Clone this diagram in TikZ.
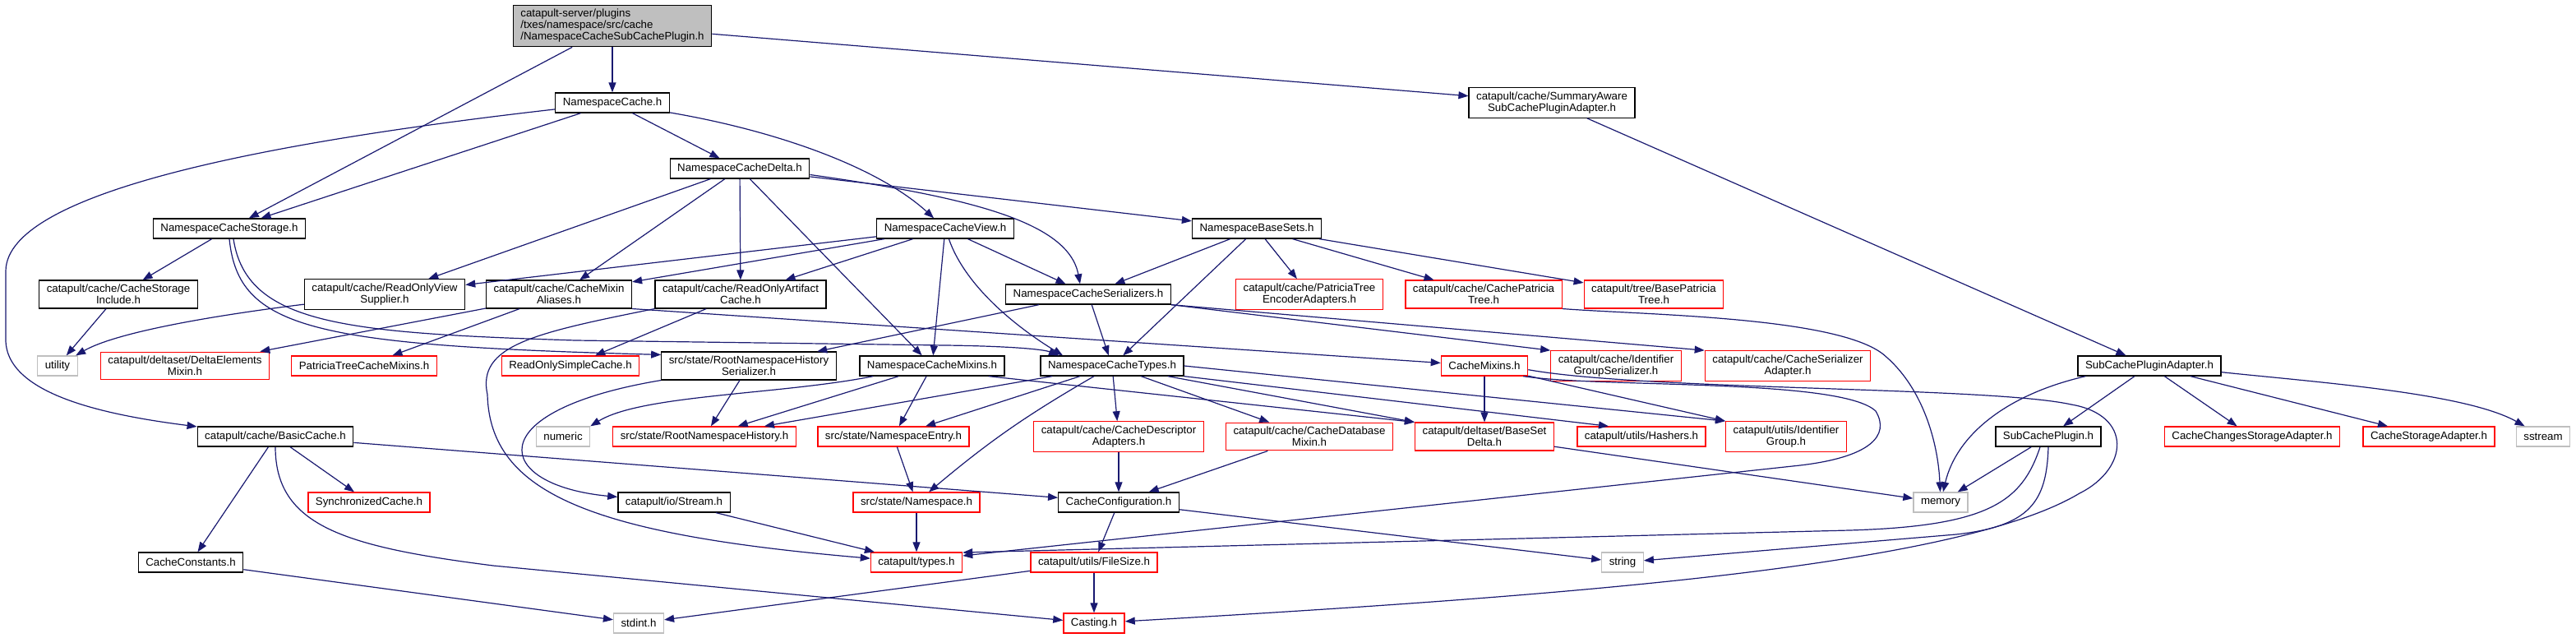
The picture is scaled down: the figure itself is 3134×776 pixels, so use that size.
\documentclass[tikz,border=0pt]{standalone}
\usepackage{fontspec}
\setmainfont{Liberation Sans}
\usepackage{xcolor}
\usepackage{tikz}
\usetikzlibrary{arrows.meta}
\definecolor{edgeblue}{RGB}{25,25,112}
\definecolor{sysgray}{RGB}{191,191,191}

\begin{document}
\begin{tikzpicture}[
    x=1pt, y=-1pt,
    hbox/.style={rectangle, draw, line width=1.3pt, font=\fontsize{13.3}{14}\selectfont, inner xsep=9pt, inner ysep=5pt, minimum height=24pt, align=center},
    doc/.style={hbox, draw=black},
    undoc/.style={hbox, draw=red},
    syshdr/.style={hbox, draw=sysgray},
    incl/.style={draw=edgeblue, line width=1.2pt, -{Triangle[length=12pt,width=9pt]}},
]
    \useasboundingbox (0,0) rectangle (3134,776);

    \node[doc, fill=sysgray, align=left] (root) at (745,31.5) {catapult-server/plugins\\/txes/namespace/src/cache\\/NamespaceCacheSubCachePlugin.h};
    \node[doc] (nsCache) at (745,125) {NamespaceCache.h};
    \node[doc] (summary) at (1888,125) {catapult/cache/SummaryAware\\SubCachePluginAdapter.h};
    \node[doc] (nsDelta) at (900,205) {NamespaceCacheDelta.h};
    \node[doc] (nsStorage) at (279,278) {NamespaceCacheStorage.h};
    \node[doc] (nsView) at (1150,278) {NamespaceCacheView.h};
    \node[doc] (baseSets) at (1529,278) {NamespaceBaseSets.h};
    \node[doc] (storageInc) at (144,358) {catapult/cache/CacheStorage\\Include.h};
    \node[doc] (viewSupplier) at (468,358) {catapult/cache/ReadOnlyView\\Supplier.h};
    \node[doc] (mixinAliases) at (680,358) {catapult/cache/CacheMixin\\Aliases.h};
    \node[doc] (artifactCache) at (901,358) {catapult/cache/ReadOnlyArtifact\\Cache.h};
    \node[doc] (serializers) at (1324,358) {NamespaceCacheSerializers.h};
    \node[undoc] (treeEncoder) at (1593,358) {catapult/cache/PatriciaTree\\EncoderAdapters.h};
    \node[undoc] (cachePatricia) at (1805,358) {catapult/cache/CachePatricia\\Tree.h};
    \node[undoc] (basePatricia) at (2012,358) {catapult/tree/BasePatricia\\Tree.h};
    \node[syshdr] (utility) at (70,445) {utility};
    \node[undoc] (deltaElements) at (225,445) {catapult/deltaset/DeltaElements\\Mixin.h};
    \node[undoc] (patriciaMixins) at (443,445) {PatriciaTreeCacheMixins.h};
    \node[undoc] (simpleCache) at (694,445) {ReadOnlySimpleCache.h};
    \node[doc] (historySer) at (911,445) {src/state/RootNamespaceHistory\\Serializer.h};
    \node[doc] (nsMixins) at (1134,445) {NamespaceCacheMixins.h};
    \node[doc] (nsTypes) at (1353,445) {NamespaceCacheTypes.h};
    \node[undoc] (cacheMixins) at (1806,445) {CacheMixins.h};
    \node[undoc] (groupSer) at (1966,445) {catapult/cache/Identifier\\GroupSerializer.h};
    \node[undoc] (serAdapter) at (2175,445) {catapult/cache/CacheSerializer\\Adapter.h};
    \node[doc] (pluginAdapter) at (2615,445) {SubCachePluginAdapter.h};
    \node[doc] (basicCache) at (335,531) {catapult/cache/BasicCache.h};
    \node[syshdr] (numeric) at (685,531) {numeric};
    \node[undoc] (history) at (857,531) {src/state/RootNamespaceHistory.h};
    \node[undoc] (nsEntry) at (1087,531) {src/state/NamespaceEntry.h};
    \node[undoc] (descAdapters) at (1361,531) {catapult/cache/CacheDescriptor\\Adapters.h};
    \node[undoc] (dbMixin) at (1593,531) {catapult/cache/CacheDatabase\\Mixin.h};
    \node[undoc] (baseSetDelta) at (1806,531) {catapult/deltaset/BaseSet\\Delta.h};
    \node[undoc] (hashers) at (1997,531) {catapult/utils/Hashers.h};
    \node[undoc] (idGroup) at (2173,531) {catapult/utils/Identifier\\Group.h};
    \node[doc] (subPlugin) at (2492,531) {SubCachePlugin.h};
    \node[undoc] (changesAdapter) at (2740,531) {CacheChangesStorageAdapter.h};
    \node[undoc] (storageAdapter) at (2955,531) {CacheStorageAdapter.h};
    \node[syshdr] (sstream) at (3094,531) {sstream};
    \node[undoc] (syncCache) at (449,611) {SynchronizedCache.h};
    \node[doc] (stream) at (820,611) {catapult/io/Stream.h};
    \node[undoc] (nsState) at (1115,611) {src/state/Namespace.h};
    \node[doc] (cacheConfig) at (1361,611) {CacheConfiguration.h};
    \node[syshdr] (memory) at (2361,611) {memory};
    \node[doc] (cacheConstants) at (232,684) {CacheConstants.h};
    \node[undoc] (types) at (1115,684) {catapult/types.h};
    \node[undoc] (fileSize) at (1331,684) {catapult/utils/FileSize.h};
    \node[syshdr] (string) at (1974,684) {string};
    \node[syshdr] (stdint) at (777,758) {stdint.h};
    \node[undoc] (casting) at (1331,758) {Casting.h};

    \draw[incl] (root) -- (nsCache);
    \draw[incl] (root) -- (nsStorage);
    \draw[incl] (root) -- (summary);
    \draw[incl] (nsCache) -- (nsStorage);
    \draw[incl] (nsCache) -- (nsDelta);
    \draw[incl] (nsCache) .. controls (950,160) and (1070,205) .. (nsView);
    \draw[incl] (nsCache) .. controls (350,170) and (7,230) .. (7,330) -- (7,413) .. controls (7,480) and (130,505) .. (basicCache);
    \draw[incl] (nsDelta) -- (viewSupplier);
    \draw[incl] (nsDelta) -- (mixinAliases);
    \draw[incl] (nsDelta) -- (artifactCache);
    \draw[incl] (nsDelta) -- (nsMixins);
    \draw[incl] (nsDelta) -- (baseSets);
    \draw[incl] (nsDelta.-5) .. controls (1180,240) and (1300,270) .. ([xshift=-10pt]serializers.north);
    \draw[incl] (nsView) -- (viewSupplier);
    \draw[incl] (nsView) -- (mixinAliases);
    \draw[incl] (nsView) -- (artifactCache);
    \draw[incl] (nsView) -- (serializers);
    \draw[incl] (nsView) -- (nsMixins);
    \draw[incl] (nsView) .. controls (1175,350) and (1240,400) .. ([xshift=-60pt]nsTypes.north);
    \draw[incl] (baseSets) -- (serializers);
    \draw[incl] (baseSets) -- (nsTypes);
    \draw[incl] (baseSets) -- (treeEncoder);
    \draw[incl] (baseSets) -- (cachePatricia);
    \draw[incl] (baseSets) -- (basePatricia);
    \draw[incl] (summary) -- (pluginAdapter);
    \draw[incl] (nsStorage) -- (storageInc);
    \draw[incl] (nsStorage.south) .. controls (290,400) and (380,420) .. ([yshift=-4pt]historySer.north west);
    \draw[incl] ([xshift=5pt]nsStorage.south) .. controls (300,395) and (420,405) .. (700,414) -- (1150,420) .. controls (1230,421) and (1270,425) .. ([xshift=-65pt]nsTypes.north);
    \draw[incl] (storageInc) -- (utility);
    \draw[incl] (viewSupplier) .. controls (250,385) and (140,405) .. (utility);
    \draw[incl] (mixinAliases) -- (deltaElements);
    \draw[incl] (mixinAliases) -- (patriciaMixins);
    \draw[incl] (mixinAliases.south east) -- (cacheMixins);
    \draw[incl] (artifactCache) -- (simpleCache);
    \draw[incl] (artifactCache.south west) .. controls (650,405) and (580,420) .. (593,480) .. controls (596,600) and (720,650) .. (types);
    \draw[incl] (serializers) -- (historySer);
    \draw[incl] (serializers) -- (nsTypes);
    \draw[incl] (serializers.south east) -- (groupSer.north west);
    \draw[incl] (serializers.south east) -- (serAdapter.north west);
    \draw[incl] (historySer) -- (history);
    \draw[incl] (historySer.south west) .. controls (580,500) and (600,590) .. (stream);
    \draw[incl] (nsMixins.-170) .. controls (950,480) and (780,480) .. (numeric.north east);
    \draw[incl] (nsMixins) -- (history);
    \draw[incl] (nsMixins) -- (nsEntry);
    \draw[incl] ([xshift=-20pt]nsMixins.south east) -- (baseSetDelta.north west);
    \draw[incl] (nsTypes) -- (history);
    \draw[incl] (nsTypes) -- (nsEntry);
    \draw[incl] (nsTypes) to[bend right=5] (nsState);
    \draw[incl] (nsTypes) -- (descAdapters);
    \draw[incl] (nsTypes) -- (dbMixin);
    \draw[incl] (nsTypes) -- (baseSetDelta.north west);
    \draw[incl] (nsTypes.south east) -- ([xshift=-40pt]hashers.north);
    \draw[incl] (nsTypes.east) -- (idGroup.north west);
    \draw[incl] (cacheMixins) -- (idGroup.north west);
    \draw[incl] (cacheMixins) -- (baseSetDelta);
    \draw[incl] (cacheMixins.-15) .. controls (1950,472) and (2240,460) .. (2282,500) .. controls (2300,530) and (2275,556) .. (2190,566) -- ([yshift=8pt]types.east);
    \draw[incl] (cacheMixins.-5) .. controls (2000,475) and (2420,470) .. (2520,492) .. controls (2595,505) and (2590,570) .. (2530,600) .. controls (2380,690) and (1900,725) .. (casting);
    \draw[incl] (cachePatricia.south east) .. controls (2000,383) and (2230,385) .. (2290,430) .. controls (2340,470) and (2358,540) .. (memory);
    \draw[incl] (baseSetDelta) -- (memory);
    \draw[incl] (pluginAdapter) -- (subPlugin);
    \draw[incl] (pluginAdapter) -- (changesAdapter);
    \draw[incl] (pluginAdapter) -- (storageAdapter);
    \draw[incl] (pluginAdapter.-5) .. controls (2820,465) and (3000,478) .. (sstream);
    \draw[incl] ([xshift=10pt]pluginAdapter.south west) .. controls (2440,480) and (2380,530) .. (memory);
    \draw[incl] (subPlugin) -- (memory);
    \draw[incl] ([xshift=-10pt]subPlugin.south) .. controls (2460,610) and (2420,640) .. (2250,645) -- ([yshift=12pt]types.east);
    \draw[incl] (subPlugin.south) .. controls (2490,610) and (2470,640) .. (2380,650) -- (string);
    \draw[incl] (basicCache) -- (syncCache);
    \draw[incl] (basicCache) -- (cacheConstants);
    \draw[incl] (basicCache) -- (cacheConfig);
    \draw[incl] (basicCache.south) .. controls (335,640) and (420,665) .. (600,688) -- (casting);
    \draw[incl] (nsEntry) -- (nsState);
    \draw[incl] (nsState) -- (types);
    \draw[incl] (stream) -- (types);
    \draw[incl] (descAdapters) -- (cacheConfig);
    \draw[incl] (dbMixin) -- (cacheConfig);
    \draw[incl] (cacheConfig) -- (fileSize);
    \draw[incl] (cacheConfig) -- (string);
    \draw[incl] (cacheConstants) -- (stdint);
    \draw[incl] (fileSize) -- (stdint);
    \draw[incl] (fileSize) -- (casting);
\end{tikzpicture}
\end{document}
